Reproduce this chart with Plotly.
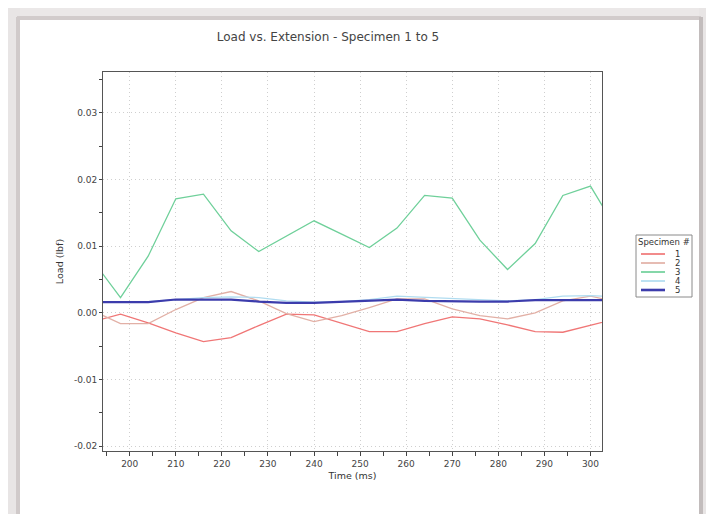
import plotly.graph_objects as go

# ---- data ----
time_ms = [192, 198, 204, 210, 216, 222, 228, 234, 240, 246, 252, 258, 264, 270, 276, 282, 288, 294, 300, 306]
spec1 = [-0.0013, -0.0002, -0.0015, -0.0030, -0.0043, -0.0037, -0.0019, -0.0002, -0.0003, -0.0016,
         -0.0028, -0.0028, -0.0016, -0.0006, -0.0009, -0.0018, -0.0028, -0.0029, -0.0019, -0.0008]
spec2 = [0.0003, -0.0016, -0.0016, 0.0005, 0.0023, 0.0032, 0.0018, -0.0001, -0.0013, -0.0004,
         0.0008, 0.0021, 0.0021, 0.0006, -0.0004, -0.0009, 0.0000, 0.0018, 0.0025, 0.0016]
spec3 = [0.0078, 0.0023, 0.0085, 0.0171, 0.0178, 0.0123, 0.0092, 0.0115, 0.0138, 0.0118,
         0.0098, 0.0127, 0.0176, 0.0172, 0.0109, 0.0065, 0.0104, 0.0176, 0.0190, 0.0121]
spec4 = [0.0017, 0.0017, 0.0017, 0.0020, 0.0023, 0.0024, 0.0023, 0.0018, 0.0016, 0.0017,
         0.0020, 0.0025, 0.0023, 0.0022, 0.0020, 0.0018, 0.0020, 0.0025, 0.0026, 0.0024]
spec5 = [0.0016, 0.0016, 0.0016, 0.0020, 0.0020, 0.0020, 0.0017, 0.0015, 0.0015, 0.0017,
         0.0018, 0.0020, 0.0018, 0.0017, 0.0017, 0.0017, 0.0019, 0.0019, 0.0019, 0.0019]
series_names = ["1", "2", "3", "4", "5"]
x_tick_vals = [200, 210, 220, 230, 240, 250, 260, 270, 280, 290, 300]
x_tick_text = ["200", "210", "220", "230", "240", "250", "260", "270", "280", "290", "300"]
y_tick_vals = [-0.02, -0.01, 0.0, 0.01, 0.02, 0.03]
y_tick_text = ["-0.02", "-0.01", "0.00", "0.01", "0.02", "0.03"]

colors = ["#f07676", "#e2b0a6", "#6fd09a", "#b0dcf0", "#3c3cac"]
widths = [1.3, 1.3, 1.3, 1.3, 2.2]

# page body has an 8px margin, so the figure is laid out in page pixels minus 8
OFF = 8
W, H = 714 - OFF, 514 - OFF
L, R, T, B = 103 - OFF, 602 - OFF, 72 - OFF, 451 - OFF

fig = go.Figure()
for name, ys, c, w in zip(series_names, [spec1, spec2, spec3, spec4, spec5], colors, widths):
    fig.add_trace(go.Scatter(x=time_ms, y=ys, mode="lines", name=name,
                             line=dict(color=c, width=w), showlegend=False))


def px_x(p):
    return (p - OFF - L) / (R - L)


def px_y(p):
    return (B - (p - OFF)) / (B - T)


shapes = []
annotations = []


def frame_rect(x0, y0, x1, y1, color, line=None, layer="below"):
    shapes.append(dict(type="rect", xref="paper", yref="paper",
                       x0=px_x(x0), x1=px_x(x1), y0=px_y(y1), y1=px_y(y0),
                       fillcolor=color, line=line or dict(width=0), layer=layer))


# window frame (shadowed border)
frame_rect(5, 5, 713, 20, "#ebe8e8")
frame_rect(5, 5, 20, 522, "#e8e5e5")
frame_rect(699, 5, 713, 522, "#e8e5e5")
frame_rect(17, 16, 701, 20, "#d2cccc")
frame_rect(16, 17, 20, 522, "#d0caca")
frame_rect(699, 17, 703, 522, "#c2bcbc")

# compact legend box (reference page pixels)
frame_rect(636, 235, 692, 297, "white", line=dict(color="#8a8a8a", width=1), layer="above")
annotations.append(dict(text="Specimen #", xref="paper", yref="paper", x=px_x(664), y=px_y(242.5),
                        xanchor="center", yanchor="middle", showarrow=False,
                        font=dict(size=8.5, color="#333")))
for i, (name, c, w) in enumerate(zip(series_names, colors, widths)):
    yy = 254 + i * 9
    shapes.append(dict(type="line", xref="paper", yref="paper",
                       x0=px_x(641), x1=px_x(665), y0=px_y(yy), y1=px_y(yy),
                       line=dict(color=c, width=w + 0.4), layer="above"))
    annotations.append(dict(text=name, xref="paper", yref="paper", x=px_x(677), y=px_y(yy),
                            xanchor="center", yanchor="middle", showarrow=False,
                            font=dict(size=8.5, color="#333")))

fig.update_layout(
    width=W, height=H,
    margin=dict(l=L, r=W - R, t=T, b=H - B, autoexpand=False),
    paper_bgcolor="white", plot_bgcolor="white",
    font=dict(family="DejaVu Sans, sans-serif", size=9, color="#444"),
    title=dict(text="Load vs. Extension - Specimen 1 to 5",
               font=dict(family="DejaVu Sans, sans-serif", size=12, color="#444"),
               x=px_x(328), xref="paper", xanchor="center",
               y=1 - (37 - OFF) / H, yref="container", yanchor="middle"),
    shapes=shapes,
    annotations=annotations,
    showlegend=False,
)

fig.update_xaxes(range=[194.2, 302.5], tickmode="array", tickvals=x_tick_vals, ticktext=x_tick_text,
                 ticks="outside", ticklen=4, tickcolor="#444",
                 minor=dict(ticks="outside", ticklen=4, dtick=5, tick0=0, tickcolor="#444", showgrid=False),
                 showgrid=True, gridcolor="#cfcfcf", griddash="1px,3px", gridwidth=1,
                 showline=True, linecolor="#555", linewidth=1, mirror=True,
                 zeroline=False,
                 title=dict(text="Time (ms)", font=dict(size=9.5, color="#333"), standoff=4))
fig.update_yaxes(range=[-0.0207, 0.0361], tickmode="array", tickvals=y_tick_vals, ticktext=y_tick_text,
                 ticks="outside", ticklen=3, tickcolor="#444",
                 minor=dict(ticks="outside", ticklen=3, dtick=0.005, tick0=0, tickcolor="#444", showgrid=False),
                 showgrid=True, gridcolor="#cfcfcf", griddash="1px,3px", gridwidth=1,
                 showline=True, linecolor="#555", linewidth=1, mirror=True,
                 zeroline=False,
                 title=dict(text="Load (lbf)", font=dict(size=9.5, color="#333"), standoff=8))

fig.write_html("out.html")
